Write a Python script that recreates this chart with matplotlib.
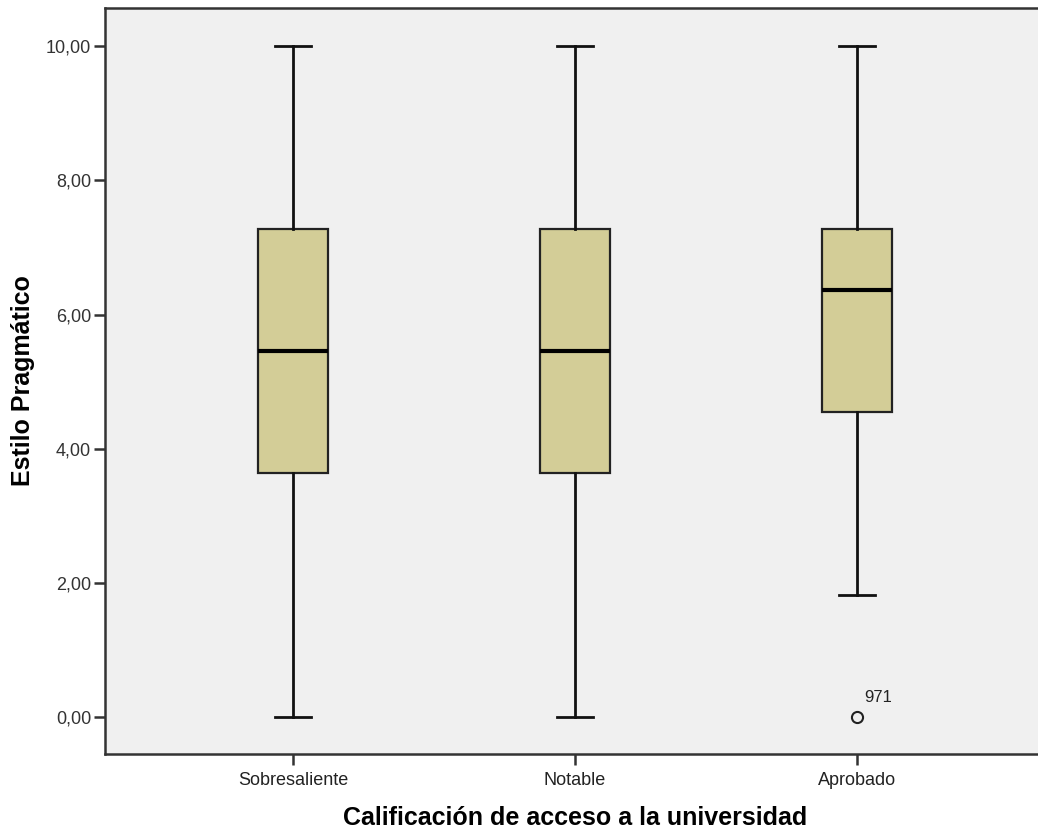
import matplotlib
matplotlib.use("Agg")
import matplotlib.pyplot as plt

# Box plot summary (SPSS style)
categories = ["Sobresaliente", "Notable", "Aprobado"]
whisker_low = [0.00, 0.00, 1.82]
q1 = [3.64, 3.64, 4.55]
medians = [5.45, 5.45, 6.36]
q3 = [7.27, 7.27, 7.27]
whisker_high = [10.00, 10.00, 10.00]
outliers = [[], [], [0.00]]
outlier_ids = [[], [], ["971"]]
y_ticks = [0, 2, 4, 6, 8, 10]

plt.rcParams["font.family"] = ["Liberation Sans", "DejaVu Sans"]

fig = plt.figure(figsize=(10.38, 8.34), dpi=100)
# plot frame runs slightly past the right edge of the image, as in the original
ax = fig.add_axes([105 / 1038, 1 - 754 / 834, 940 / 1038, 746 / 834])
ax.set_facecolor("#f0f0f0")

stats = []
for i, name in enumerate(categories):
    stats.append(dict(label=name, whislo=whisker_low[i], q1=q1[i], med=medians[i],
                      q3=q3[i], whishi=whisker_high[i], fliers=outliers[i]))

positions = list(range(1, len(categories) + 1))
ax.bxp(stats, positions=positions, widths=0.25, patch_artist=True,
       boxprops=dict(facecolor="#d3cd97", edgecolor="#222222", linewidth=1.6),
       medianprops=dict(color="black", linewidth=3),
       whiskerprops=dict(color="#111111", linewidth=2),
       capprops=dict(color="#111111", linewidth=2),
       capwidths=0.13,
       flierprops=dict(marker="o", markerfacecolor="none", markeredgecolor="#222222",
                       markersize=8, markeredgewidth=1.5))

for i, (vals, ids) in enumerate(zip(outliers, outlier_ids)):
    for v, t in zip(vals, ids):
        ax.annotate(t, (positions[i], v), xytext=(5, 11), textcoords="offset points",
                    fontsize=12, color="#222222")

ax.set_xlim(1 / 3, 3 + 2 / 3)
ax.set_ylim(-0.55, 10.57)
ax.set_yticks(y_ticks)
ax.set_yticklabels([f"{v:.2f}".replace(".", ",") for v in y_ticks], fontsize=13,
                   color="#333333")
ax.set_xticks(positions)
ax.set_xticklabels(categories, fontsize=13, color="#222222")
ax.tick_params(axis="both", length=8, width=1.8, color="#333333")
ax.tick_params(axis="y", pad=2)
ax.tick_params(axis="x", pad=5)
for s in ax.spines.values():
    s.set_linewidth(1.8)
    s.set_color("#333333")

ax.set_ylabel("Estilo Pragmático", fontsize=18, fontweight="bold", labelpad=8)
ax.set_xlabel("Calificación de acceso a la universidad", fontsize=18,
              fontweight="bold", labelpad=12)

fig.savefig("out.png", dpi=100)
